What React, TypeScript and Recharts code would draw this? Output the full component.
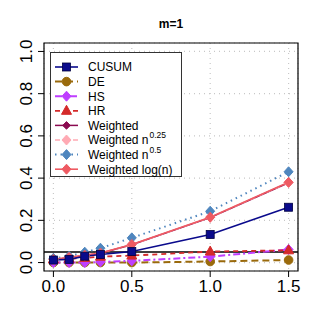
import React from "react";
import { LineChart, Line, XAxis, YAxis, CartesianGrid, ReferenceLine, ReferenceArea } from "recharts";

const xValues = [0, 0.1, 0.2, 0.3, 0.5, 1.0, 1.5];
const cusum = [0.012, 0.015, 0.03, 0.038, 0.052, 0.133, 0.262];
const de = [0.0, 0.0, 0.0, 0.0, 0.0, 0.005, 0.012];
const hs = [0.0, 0.0, 0.0, 0.003, 0.008, 0.028, 0.062];
const hr = [0.015, 0.018, 0.022, 0.028, 0.033, 0.052, 0.058];
const weighted = [0.014, 0.022, 0.033, 0.044, 0.084, 0.213, 0.378];
const weightedN025 = [0.015, 0.024, 0.034, 0.045, 0.085, 0.214, 0.379];
const weightedN05 = [0.02, 0.03, 0.049, 0.068, 0.117, 0.243, 0.43];
const weightedLog = [0.015, 0.025, 0.035, 0.045, 0.086, 0.215, 0.38];
const xTicks = [0, 0.5, 1.0, 1.5];
const yTicks = [0, 0.2, 0.4, 0.6, 0.8, 1.0];
const title = "m=1";

const data = xValues.map((x, i) => ({
  x,
  cusum: cusum[i],
  de: de[i],
  hs: hs[i],
  hr: hr[i],
  weighted: weighted[i],
  wn025: weightedN025[i],
  wn05: weightedN05[i],
  wlog: weightedLog[i],
}));

type Shape = "square" | "circle" | "diamond" | "triangle" | "smalldiamond";

const drawMarker = (shape: Shape, cx: number, cy: number, color: string, key?: any) => {
  switch (shape) {
    case "square":
      return <rect key={key} x={cx - 4} y={cy - 4} width={8} height={8} fill={color} stroke="#000040" strokeWidth={0.8} />;
    case "circle":
      return <circle key={key} cx={cx} cy={cy} r={4.3} fill={color} stroke={color} />;
    case "triangle":
      return <polygon key={key} points={`${cx},${cy - 5.5} ${cx + 5},${cy + 3.5} ${cx - 5},${cy + 3.5}`} fill={color} stroke={color} />;
    case "smalldiamond":
      return <polygon key={key} points={`${cx},${cy - 3.8} ${cx + 3.8},${cy} ${cx},${cy + 3.8} ${cx - 3.8},${cy}`} fill={color} stroke={color} />;
    default:
      return <polygon key={key} points={`${cx},${cy - 5} ${cx + 4.5},${cy} ${cx},${cy + 5} ${cx - 4.5},${cy}`} fill={color} stroke={color} />;
  }
};

const series = [
  { key: "de", name: "DE", color: "#9A6A0C", shape: "circle" as Shape, dash: "7 4", width: 2 },
  { key: "hs", name: "HS", color: "#BF3EFF", shape: "diamond" as Shape, dash: "7 3 2 3", width: 2 },
  { key: "hr", name: "HR", color: "#D42A2A", shape: "triangle" as Shape, dash: "5 4", width: 1.8 },
  { key: "weighted", name: "Weighted", color: "#8B0A50", shape: "smalldiamond" as Shape, dash: undefined, width: 1.5 },
  { key: "wn025", name: "Weighted n", sup: "0.25", color: "#FFAAB4", shape: "diamond" as Shape, dash: "5 4", width: 1.5 },
  { key: "wn05", name: "Weighted n", sup: "0.5", color: "#4F86BE", shape: "diamond" as Shape, dash: "1.5 4", width: 2 },
  { key: "wlog", name: "Weighted log(n)", color: "#EE5A62", shape: "diamond" as Shape, dash: undefined, width: 1.6 },
  { key: "cusum", name: "CUSUM", color: "#0A0A8C", shape: "square" as Shape, dash: undefined, width: 1.6 },
];

const legendOrder = ["cusum", "de", "hs", "hr", "weighted", "wn025", "wn05", "wlog"];

const font = "'Liberation Sans', Arial, Helvetica, sans-serif";

const LegendBox = () => {
  const step = 14.6;
  return (
    <svg width={133} height={126} style={{ position: "absolute", left: 50, top: 52 }}>
      <rect x={0.5} y={0.5} width={131} height={124} fill="white" stroke="#333" strokeWidth={1} />
      {legendOrder.map((k, i) => {
        const s = series.find((d) => d.key === k)!;
        const y = 15 + i * step;
        return (
          <g key={k}>
            <line x1={5} x2={28} y1={y} y2={y} stroke={s.color} strokeWidth={s.width} strokeDasharray={s.dash} />
            {drawMarker(s.shape, 16.5, y, s.color)}
            <text x={38} y={y + 4.3} fontSize={12} fontFamily={font} fill="#000">
              {s.name}
              {s.sup ? (
                <tspan dx={1} dy={-6} fontSize={8.5}>
                  {s.sup}
                </tspan>
              ) : null}
            </text>
          </g>
        );
      })}
    </svg>
  );
};

const YTick = (props: any) => {
  const { y, payload } = props;
  return (
    <text
      transform={`translate(26,${y}) rotate(-90)`}
      textAnchor="middle"
      dominantBaseline="central"
      fontSize={17}
      fontFamily={font}
      fill="#000"
    >
      {Number(payload.value).toFixed(1)}
    </text>
  );
};

export default function App() {
  return (
    <div style={{ position: "absolute", left: 0, top: 0, width: 321, height: 327, background: "white" }}>
      <LineChart width={321} height={327} data={data} margin={{ top: 43, right: 23, bottom: 26, left: 14 }}>
        <CartesianGrid stroke="#c8c8c8" strokeDasharray="1 4" strokeWidth={1.2} />
        <XAxis
          type="number"
          dataKey="x"
          domain={[-0.06, 1.56]}
          ticks={xTicks}
          tickFormatter={(v: number) => v.toFixed(1)}
          axisLine={false}
          tickSize={6}
          tickMargin={3}
          tickLine={{ stroke: "#000" }}
          height={30}
          tick={{ fontSize: 17, fill: "#000", fontFamily: font }}
          allowDataOverflow
        />
        <YAxis
          type="number"
          domain={[-0.04, 1.04]}
          ticks={yTicks}
          axisLine={false}
          tickSize={6}
          tickLine={{ stroke: "#000" }}
          width={30}
          tick={<YTick />}
          allowDataOverflow
        />
        <ReferenceArea x1={-0.06} x2={1.56} y1={-0.04} y2={1.04} fill="none" stroke="#000" strokeWidth={1.2} fillOpacity={0} />
        <ReferenceLine y={0.05} stroke="#000" strokeWidth={1.4} />
        {series.map((s) => (
          <Line
            key={s.key}
            dataKey={s.key}
            name={s.name}
            stroke={s.color}
            strokeWidth={s.width}
            strokeDasharray={s.dash}
            isAnimationActive={false}
            dot={(p: any) => drawMarker(s.shape, p.cx, p.cy, s.color, `${s.key}-${p.index}`)}
            activeDot={false}
          />
        ))}
      </LineChart>
      <svg width={321} height={40} style={{ position: "absolute", left: 0, top: 0 }}>
        <text x={171} y={28} textAnchor="middle" fontSize={12} fontWeight="bold" fontFamily={font}>
          {title}
        </text>
      </svg>
      <LegendBox />
    </div>
  );
}
